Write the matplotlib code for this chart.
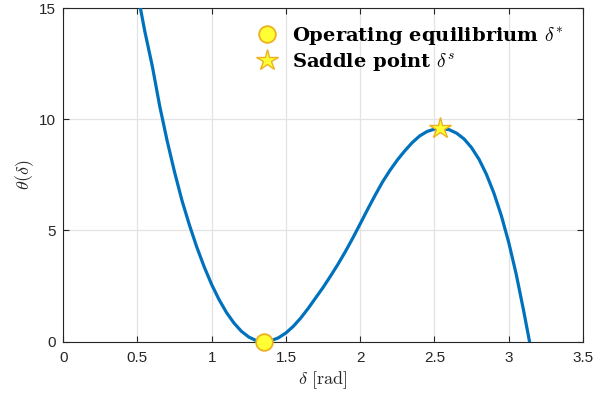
import numpy as np
import matplotlib
matplotlib.use("Agg")
import matplotlib.pyplot as plt

# energy curve theta(delta), read along the plotted trajectory
delta = [0.52, 0.55, 0.60, 0.65, 0.70, 0.75, 0.80, 0.85, 0.90, 0.95,
         1.00, 1.05, 1.10, 1.15, 1.20, 1.25, 1.30, 1.35, 1.40, 1.45,
         1.50, 1.55, 1.60, 1.65, 1.70, 1.75, 1.80, 1.85, 1.90, 1.95,
         2.00, 2.05, 2.10, 2.15, 2.20, 2.25, 2.30, 2.35, 2.40, 2.45,
         2.50, 2.54, 2.60, 2.65, 2.70, 2.75, 2.80, 2.85, 2.90, 2.95,
         3.00, 3.05, 3.10, 3.14]
theta = [15.0, 13.95, 12.4, 10.6, 9.04, 7.63, 6.35, 5.25, 4.25, 3.36,
         2.57, 1.89, 1.31, 0.84, 0.47, 0.21, 0.05, 0.0, 0.045, 0.178,
         0.395, 0.695, 1.068, 1.50, 1.97, 2.44, 2.95, 3.48, 4.05, 4.66,
         5.30, 5.95, 6.58, 7.18, 7.70, 8.17, 8.58, 8.95, 9.25, 9.45,
         9.56, 9.59, 9.53, 9.37, 9.11, 8.72, 8.20, 7.52, 6.68, 5.67,
         4.46, 3.04, 1.40, 0.0]

# equilibria
delta_eq, theta_eq = 1.35, 0.0
delta_s, theta_s = 2.54, 9.59

xticks = [0, 0.5, 1, 1.5, 2, 2.5, 3, 3.5]
yticks = [0, 5, 10, 15]

plt.rcParams['mathtext.fontset'] = 'cm'
plt.rcParams['font.family'] = ['Liberation Sans', 'DejaVu Sans']

blue = '#0072BD'
gold = '#EDB120'
yellow = '#FFFF33'
dark = '#262626'

fig = plt.figure(figsize=(6.07, 3.93), dpi=100)
ax = fig.add_axes([0.104, 0.1305, 0.8565, 0.849])

ax.plot(delta, theta, color=blue, linewidth=2.3, zorder=3,
        solid_joinstyle='round')
ax.plot(delta_eq, theta_eq, 'o', markersize=12, markerfacecolor=yellow,
        markeredgecolor=gold, markeredgewidth=1.3, linestyle='none',
        clip_on=False, zorder=4,
        label=r'Operating equilibrium $\delta^{*}$')
ax.plot(delta_s, theta_s, '*', markersize=16, markerfacecolor=yellow,
        markeredgecolor=gold, markeredgewidth=1.0, linestyle='none',
        clip_on=False, zorder=4,
        label=r'Saddle point $\delta^{s}$')

ax.set_xlim(0, 3.5)
ax.set_ylim(0, 15)
ax.set_xticks(xticks)
ax.set_yticks(yticks)
ax.set_xticklabels(['0', '0.5', '1', '1.5', '2', '2.5', '3', '3.5'])
ax.set_yticklabels(['0', '5', '10', '15'])
ax.grid(True, color='#e3e3e3', linewidth=0.9, zorder=0)
ax.set_axisbelow(True)
ax.tick_params(direction='in', length=4, width=0.8, colors=dark,
               labelsize=11, top=True, right=True)
ax.tick_params(axis='x', pad=7)
ax.tick_params(axis='y', pad=5)
for s in ax.spines.values():
    s.set_color(dark)
    s.set_linewidth(0.8)

ax.set_xlabel(r'$\delta\ [\mathrm{rad}]$', fontsize=13, color=dark, labelpad=3)
ax.set_ylabel(r'$\theta(\delta)$', fontsize=13, color=dark, labelpad=2)

leg = ax.legend(loc='upper right', bbox_to_anchor=(0.985, 0.985), frameon=False,
                prop={'family': 'DejaVu Serif', 'weight': 'bold', 'size': 14},
                handletextpad=0.7, borderaxespad=0.2,
                labelspacing=0.2, handlelength=1.2)

fig.savefig('out.png', dpi=100)
